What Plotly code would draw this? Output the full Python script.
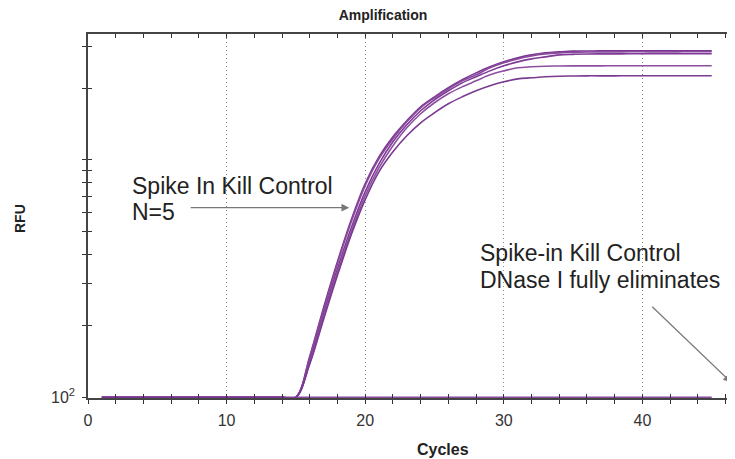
import plotly.graph_objects as go

cycles = list(range(1, 46))

base = [100] * 14  # cycles 1-14
curve_a = base + [100, 149, 239, 373, 560, 793, 1029, 1249, 1458, 1670, 1839, 2007, 2169, 2320, 2460,
                  2581, 2683, 2762, 2816, 2843, 2865, 2868, 2871, 2871, 2871, 2873, 2873, 2871, 2871, 2873, 2873]
curve_b = base + [100, 147, 234, 366, 549, 778, 1010, 1225, 1444, 1654, 1821, 1988, 2147, 2276, 2436,
                  2556, 2657, 2735, 2788, 2816, 2830, 2840, 2843, 2843, 2845, 2845, 2843, 2843, 2845, 2845, 2845]
curve_c = base + [100, 143, 225, 348, 518, 734, 962, 1190, 1403, 1607, 1787, 1950, 2106, 2233, 2365,
                  2483, 2581, 2657, 2709, 2762, 2775, 2785, 2788, 2788, 2790, 2790, 2790, 2790, 2790, 2790, 2790]
curve_d = base + [100, 140, 219, 335, 498, 706, 926, 1145, 1363, 1561, 1736, 1894, 2026, 2147, 2276,
                  2365, 2436, 2460, 2475, 2480, 2483, 2483, 2483, 2485, 2485, 2485, 2485, 2485, 2485, 2485, 2485]
curve_e = base + [100, 138, 213, 326, 484, 679, 891, 1080, 1261, 1430, 1576, 1719, 1839, 1950, 2046,
                  2127, 2189, 2211, 2233, 2245, 2250, 2254, 2254, 2254, 2256, 2256, 2256, 2256, 2256, 2256, 2256]
ntc = [100] * 45

series = [curve_a, curve_b, curve_c, curve_d, curve_e]
colors = ["#7a3590", "#8a4a9e", "#7e3a94", "#8c509f", "#7a3a92"]

y_tickvals = [100, 200, 300, 400, 500, 600, 700, 800, 900, 1000, 2000, 3000]
y_ticktext = ["10<sup>2</sup>"] + [""] * 11
x_tickvals = [0, 10, 20, 30, 40]

X_RANGE = [0, 46.68]
Y_RANGE = [1.997, 3.529]

fig = go.Figure()
# helper (invisible) trace so the overlay tick axes get drawn
fig.add_trace(go.Scatter(x=cycles, y=ntc, mode="lines", xaxis="x2", yaxis="y2",
                         line=dict(width=0), opacity=0, hoverinfo="skip"))
fig.add_trace(go.Scatter(x=cycles, y=ntc, mode="lines", line=dict(color="#8a4a9e", width=1.6),
                         hoverinfo="skip"))
for s, c in zip(series, colors):
    fig.add_trace(go.Scatter(x=cycles, y=s, mode="lines", line=dict(color=c, width=1.6),
                             line_shape="spline"))

font_family = "Liberation Sans, Arial, sans-serif"

# page body has an 8px margin: figure sized/offset so plot area sits at x 88..735, y 34..398 on screen
W, H = 727, 451
fig.update_layout(
    width=W, height=H,
    margin=dict(l=80, r=0, t=26, b=61),
    paper_bgcolor="white", plot_bgcolor="white",
    showlegend=False,
    font=dict(family=font_family, color="#333"),
    title=dict(text="<b>Amplification</b>", x=375 / W, xanchor="center",
               y=1 - 7.5 / H, yanchor="middle",
               font=dict(size=14, color="#222", family=font_family)),
    xaxis=dict(
        range=X_RANGE, tickvals=x_tickvals, ticks="outside", ticklen=4, tickwidth=1,
        tickcolor="#333", showline=True, linecolor="#444", linewidth=1.5, mirror=True,
        showgrid=True, gridcolor="#888", griddash="1px,3px", gridwidth=1, zeroline=False,
        tickfont=dict(size=16, color="#333"), ticklabelstandoff=3,
        minor=dict(dtick=2, tick0=0, ticks="outside", ticklen=4, tickcolor="#333", showgrid=False),
    ),
    yaxis=dict(
        type="log", range=Y_RANGE, tickvals=y_tickvals, ticktext=y_ticktext,
        ticks="outside", ticklen=4, tickwidth=1, tickcolor="#333",
        showline=True, linecolor="#444", linewidth=1.5, mirror=False,
        showgrid=False, zeroline=False, tickfont=dict(size=16, color="#333"), ticklabelstandoff=4,
    ),
    xaxis2=dict(
        overlaying="x", anchor="y2", range=X_RANGE, tickvals=x_tickvals, ticks="inside",
        ticklen=4, tickwidth=1, tickcolor="#333", showticklabels=False, showline=False,
        mirror="ticks", showgrid=False, zeroline=False,
        minor=dict(dtick=2, tick0=0, ticks="inside", ticklen=4, tickcolor="#333", showgrid=False),
    ),
    yaxis2=dict(
        overlaying="y", anchor="x2", type="log", range=Y_RANGE, tickvals=y_tickvals,
        ticks="inside", ticklen=4, tickwidth=1, tickcolor="#333", showticklabels=False,
        showline=False, showgrid=False, zeroline=False,
    ),
)

PX0, PY0, PW, PH = 88, 398, 647, 364  # plot area on screen (left, bottom, width, height)


def px(xs):
    return (xs - PX0) / PW


def py(ys):
    return (PY0 - ys) / PH


# axis titles
fig.add_annotation(text="<b>Cycles</b>", xref="paper", yref="paper",
                   x=px(443), y=py(449), showarrow=False,
                   font=dict(size=16, color="#222"), xanchor="center", yanchor="middle")
fig.add_annotation(text="<b>RFU</b>", xref="paper", yref="paper",
                   x=px(20), y=py(219), showarrow=False, textangle=-90,
                   font=dict(size=14, color="#222"), xanchor="center", yanchor="middle")

# text notes (one annotation per line)
note_lines = [("Spike In Kill Control", 130, 186), ("N=5", 130, 212),
              ("Spike-in Kill Control", 478, 253), ("DNase I fully eliminates", 478, 280)]
for txt, xs, ys in note_lines:
    fig.add_annotation(text=txt, xref="paper", yref="paper", x=px(xs), y=py(ys),
                       showarrow=False, xanchor="left", yanchor="middle",
                       font=dict(size=23, color="#222"))

# arrows
fig.add_annotation(x=18.85, y=2.798, ax=7.3, ay=2.798, xref="x", yref="y", axref="x", ayref="y",
                   text="", showarrow=True, arrowhead=2, arrowsize=1.3, arrowwidth=1.2,
                   arrowcolor="#777")
fig.add_annotation(x=46.4, y=2.063, ax=40.6, ay=2.387, xref="x", yref="y", axref="x", ayref="y",
                   text="", showarrow=True, arrowhead=2, arrowsize=1.3, arrowwidth=1.2,
                   arrowcolor="#777")

fig.write_html("out.html")
